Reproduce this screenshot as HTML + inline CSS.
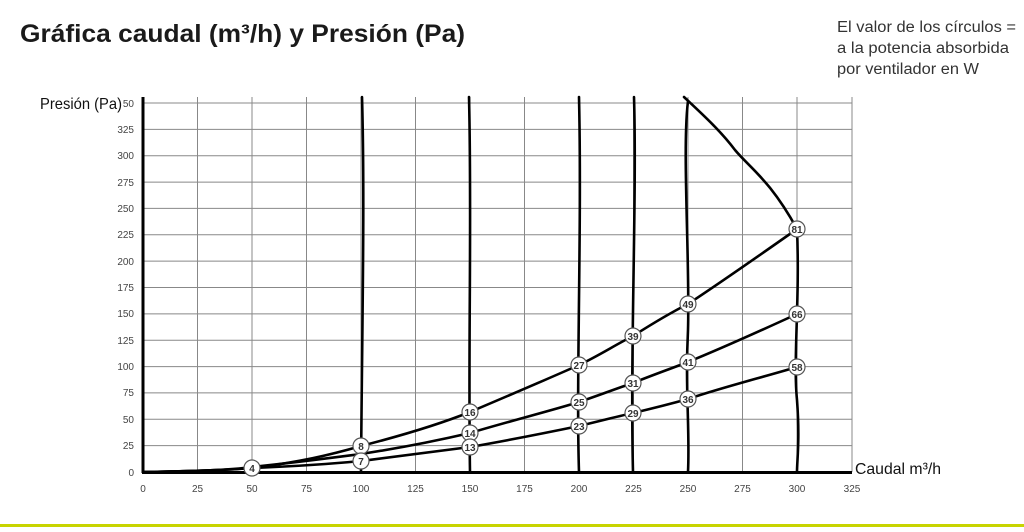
<!DOCTYPE html>
<html><head><meta charset="utf-8"><style>
body{margin:0;background:#fff;width:1024px;height:527px;overflow:hidden;font-family:"Liberation Sans",sans-serif}
</style></head><body>
<svg width="1024" height="527" viewBox="0 0 1024 527" xmlns="http://www.w3.org/2000/svg" font-family="Liberation Sans, sans-serif">
<text x="20" y="42" font-size="25" font-weight="bold" fill="#1a1a1a" textLength="445" lengthAdjust="spacingAndGlyphs">Gráfica caudal (m³/h) y Presión (Pa)</text>
<g font-size="15.5" fill="#333">
<text x="837" y="32" textLength="179" lengthAdjust="spacingAndGlyphs">El valor de los círculos =</text>
<text x="837" y="53" textLength="172" lengthAdjust="spacingAndGlyphs">a la potencia absorbida</text>
<text x="837" y="74" textLength="142" lengthAdjust="spacingAndGlyphs">por ventilador en W</text>
</g>
<text x="40" y="109" font-size="16" fill="#111" textLength="82" lengthAdjust="spacingAndGlyphs">Presión (Pa)</text>
<text x="855" y="474" font-size="16" fill="#111" textLength="86" lengthAdjust="spacingAndGlyphs">Caudal m³/h</text>
<g stroke="#888" stroke-width="1">
<line x1="143" y1="103" x2="852" y2="103"/><line x1="143" y1="129.4" x2="852" y2="129.4"/><line x1="143" y1="155.7" x2="852" y2="155.7"/><line x1="143" y1="182.1" x2="852" y2="182.1"/><line x1="143" y1="208.4" x2="852" y2="208.4"/><line x1="143" y1="234.8" x2="852" y2="234.8"/><line x1="143" y1="261.1" x2="852" y2="261.1"/><line x1="143" y1="287.5" x2="852" y2="287.5"/><line x1="143" y1="313.9" x2="852" y2="313.9"/><line x1="143" y1="340.2" x2="852" y2="340.2"/><line x1="143" y1="366.6" x2="852" y2="366.6"/><line x1="143" y1="392.9" x2="852" y2="392.9"/><line x1="143" y1="419.3" x2="852" y2="419.3"/><line x1="143" y1="445.6" x2="852" y2="445.6"/>
<line x1="197.5" y1="97" x2="197.5" y2="472"/><line x1="252" y1="97" x2="252" y2="472"/><line x1="306.5" y1="97" x2="306.5" y2="472"/><line x1="361" y1="97" x2="361" y2="472"/><line x1="415.5" y1="97" x2="415.5" y2="472"/><line x1="470" y1="97" x2="470" y2="472"/><line x1="524.5" y1="97" x2="524.5" y2="472"/><line x1="579" y1="97" x2="579" y2="472"/><line x1="633.5" y1="97" x2="633.5" y2="472"/><line x1="688" y1="97" x2="688" y2="472"/><line x1="742.5" y1="97" x2="742.5" y2="472"/><line x1="797" y1="97" x2="797" y2="472"/><line x1="852" y1="97" x2="852" y2="472"/>
</g>
<g stroke="#000" stroke-width="3" fill="none">
<line x1="143" y1="97" x2="143" y2="473"/><line x1="142" y1="472.5" x2="852" y2="472.5"/>
</g>
<g stroke="#000" stroke-width="2.6" fill="none" stroke-linecap="round">
<path d="M362,97 C365,200 362,330 361,472"/>
<path d="M469,97 C472,220 468,350 470,472"/>
<path d="M579,97 C582,230 576,380 579,472"/>
<path d="M634,97 C637,200 630,350 633,472"/>
<path d="M688,101 C682,150 690,260 688,330 C685,390 690,430 688,472"/>
<path d="M797,229 C800,300 793,360 797,400 C800,440 797,460 797,472"/>
<path d="M684,97 C700,112 720,130 735,150 C750,168 770,180 797,229"/>
<path d="M143,472 C200,471 230,470 252,468 C300,462 330,455 361,446 C400,436 440,424 470,412 C510,395 550,378 579,365 C600,355 615,345 633,336 C655,322 670,313 688,304 C720,283 760,255 797,229"/>
<path d="M143,472 C200,471 230,470 252,467 C300,462 330,458 361,454 C400,448 440,440 470,433 C510,421 550,411 579,402 C600,395 615,389 633,383 C650,376 670,369 688,362 C720,349 760,331 797,314"/>
<path d="M143,472 C200,471 230,470 252,468 C300,466 330,464 361,461 C400,456 440,451 470,447 C510,440 550,432 579,426 C600,421 615,417 633,413 C650,409 670,404 688,399 C720,388 760,378 797,367"/>
</g>
<g font-size="10" font-weight="bold" fill="#333" text-anchor="middle">
<g stroke="#555" stroke-width="1.2" fill="#fff">
<circle cx="252" cy="468" r="8"/><circle cx="361" cy="446" r="8"/><circle cx="361" cy="461" r="8"/><circle cx="470" cy="412" r="8"/><circle cx="470" cy="433" r="8"/><circle cx="470" cy="447" r="8"/><circle cx="579" cy="365" r="8"/><circle cx="579" cy="402" r="8"/><circle cx="579" cy="426" r="8"/><circle cx="633" cy="336" r="8"/><circle cx="633" cy="383" r="8"/><circle cx="633" cy="413" r="8"/><circle cx="688" cy="304" r="8"/><circle cx="688" cy="362" r="8"/><circle cx="688" cy="399" r="8"/><circle cx="797" cy="229" r="8"/><circle cx="797" cy="314" r="8"/><circle cx="797" cy="367" r="8"/>
</g>
<text x="252" y="472">4</text><text x="361" y="450">8</text><text x="361" y="465">7</text><text x="470" y="416">16</text><text x="470" y="437">14</text><text x="470" y="451">13</text><text x="579" y="369">27</text><text x="579" y="406">25</text><text x="579" y="430">23</text><text x="633" y="340">39</text><text x="633" y="387">31</text><text x="633" y="417">29</text><text x="688" y="308">49</text><text x="688" y="366">41</text><text x="688" y="403">36</text><text x="797" y="233">81</text><text x="797" y="318">66</text><text x="797" y="371">58</text>
</g>
<g font-size="10" fill="#444" text-anchor="end">
<text x="134" y="107">50</text><text x="134" y="133">325</text><text x="134" y="159">300</text><text x="134" y="186">275</text><text x="134" y="212">250</text><text x="134" y="238">225</text><text x="134" y="265">200</text><text x="134" y="291">175</text><text x="134" y="317">150</text><text x="134" y="344">125</text><text x="134" y="370">100</text><text x="134" y="396">75</text><text x="134" y="423">50</text><text x="134" y="449">25</text><text x="134" y="476">0</text>
</g>
<g font-size="10" fill="#444" text-anchor="middle">
<text x="143" y="492">0</text><text x="197.5" y="492">25</text><text x="252" y="492">50</text><text x="306.5" y="492">75</text><text x="361" y="492">100</text><text x="415.5" y="492">125</text><text x="470" y="492">150</text><text x="524.5" y="492">175</text><text x="579" y="492">200</text><text x="633.5" y="492">225</text><text x="688" y="492">250</text><text x="742.5" y="492">275</text><text x="797" y="492">300</text><text x="852" y="492">325</text>
</g>
<rect x="0" y="524" width="1024" height="3" fill="#c8d400"/>
</svg>
</body></html>
